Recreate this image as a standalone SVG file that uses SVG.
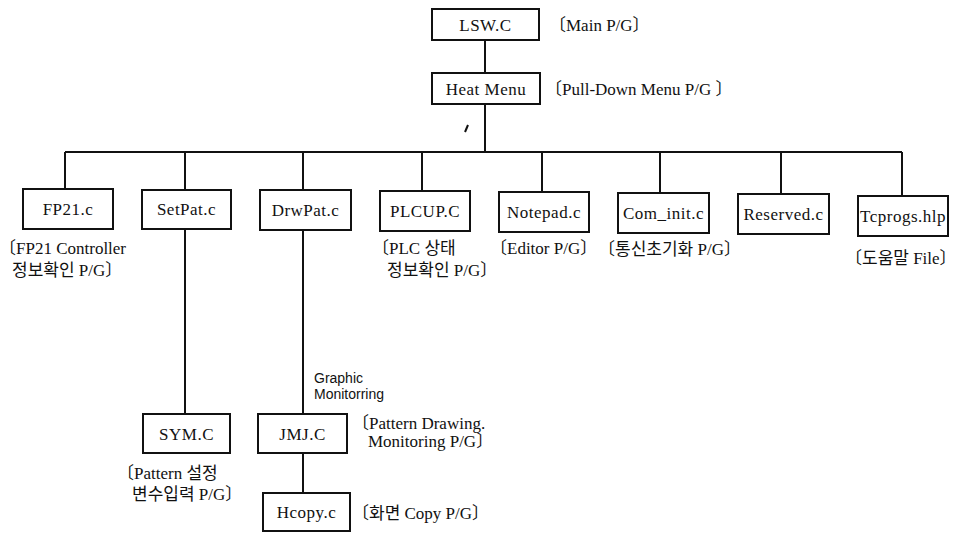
<svg xmlns="http://www.w3.org/2000/svg" width="962" height="533" viewBox="0 0 962 533">
<style>
.box{fill:#fff;stroke:#111;stroke-width:2}
.ln{stroke:#111;stroke-width:2;fill:none}
.t{font-family:"Liberation Serif","Noto Sans CJK KR",serif;font-size:17px;letter-spacing:0.5px;fill:#111;text-anchor:middle}
.l{font-family:"Liberation Serif","Noto Sans CJK KR",serif;font-size:17px;fill:#111}
.s{font-family:"Liberation Sans","Noto Sans CJK KR",sans-serif;font-size:14px;fill:#111}
</style>
<rect width="962" height="533" fill="#fff"/>
<g id="connectors">
<path class="ln" d="M485 40V73M485 104V152M65 152H902"/>
<path class="ln" d="M65 152V189M185 152V190M303 152V190M422 152V191M542 152V192M660 152V193M781 152V194M902 152V196"/>
<path class="ln" d="M185 229V414M303 230V414M303 453V493"/>
<path class="ln" stroke-width="1.5" d="M465 132L468 125"/>
</g>
<g id="lsw"><rect class="box" x="432" y="9" width="107" height="31"/><text class="t" x="485.5" y="31">LSW.C</text><text class="l" x="549" y="31">〔Main P/G〕</text></g>
<g id="heat"><rect class="box" x="432" y="73" width="108" height="31"/><text class="t" x="486" y="95">Heat Menu</text><text class="l" x="545" y="95">〔Pull-Down Menu P/G 〕</text></g>
<g id="fp21"><rect class="box" x="23" y="189" width="90" height="40"/><text class="t" x="68" y="215">FP21.c</text><text class="l" x="-1" y="254">〔FP21 Controller</text><text class="l" x="12" y="276">정보확인  P/G〕</text></g>
<g id="setpat"><rect class="box" x="142" y="190" width="89" height="39"/><text class="t" x="186.5" y="215">SetPat.c</text></g>
<g id="drwpat"><rect class="box" x="260" y="190" width="91" height="40"/><text class="t" x="305.5" y="216">DrwPat.c</text></g>
<g id="plcup"><rect class="box" x="380" y="191" width="90" height="40"/><text class="t" x="425" y="217">PLCUP.C</text><text class="l" x="372" y="254">〔PLC 상태</text><text class="l" x="387" y="276">정보확인 P/G〕</text></g>
<g id="notepad"><rect class="box" x="499" y="192" width="90" height="40"/><text class="t" x="544" y="218">Notepad.c</text><text class="l" x="490" y="254">〔Editor P/G〕</text></g>
<g id="cominit"><rect class="box" x="618" y="193" width="91" height="40"/><text class="t" x="663.5" y="219">Com_init.c</text><text class="l" x="598" y="255">〔통신초기화 P/G〕</text></g>
<g id="reserved"><rect class="box" x="738" y="194" width="91" height="40"/><text class="t" x="783.5" y="220">Reserved.c</text></g>
<g id="tcprogs"><rect class="box" x="858" y="196" width="90" height="40"/><text class="t" x="903" y="222">Tcprogs.hlp</text><text class="l" x="845" y="264">〔도움말  File〕</text></g>
<g id="sym"><rect class="box" x="143" y="414" width="87" height="39"/><text class="t" x="186.5" y="440">SYM.C</text><text class="l" x="117" y="479">〔Pattern 설정</text><text class="l" x="132" y="500">변수입력 P/G〕</text></g>
<g id="jmj"><rect class="box" x="258" y="414" width="89" height="39"/><text class="t" x="302.5" y="440">JMJ.C</text><text class="s" x="314" y="383">Graphic</text><text class="s" x="314" y="399">Monitorring</text><text class="l" x="352" y="429">〔Pattern Drawing.</text><text class="l" x="368" y="447">Monitoring P/G〕</text></g>
<g id="hcopy"><rect class="box" x="263" y="493" width="87" height="38"/><text class="t" x="306.5" y="518">Hcopy.c</text><text class="l" x="352" y="519">〔화면 Copy P/G〕</text></g>
</svg>
